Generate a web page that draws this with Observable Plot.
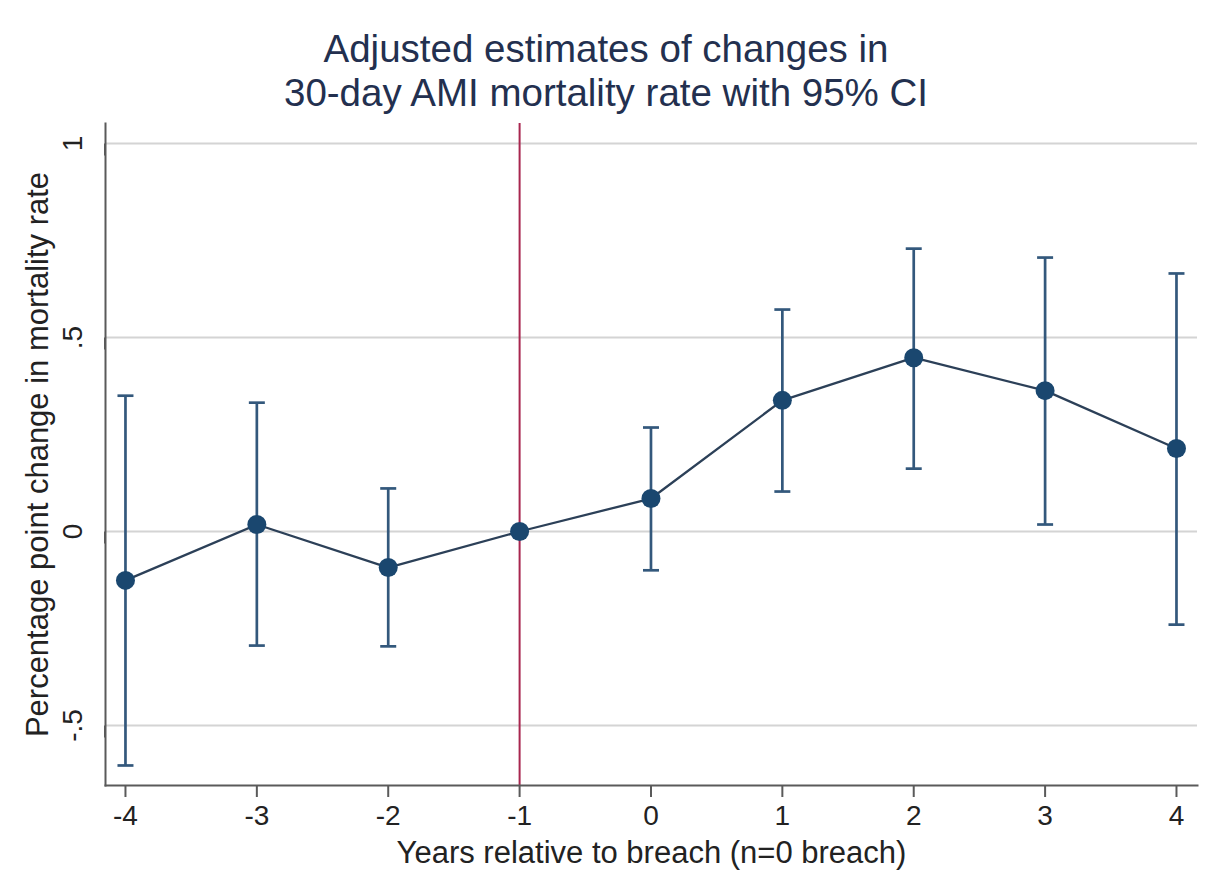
<!DOCTYPE html>
<html><head><meta charset="utf-8">
<script src="https://cdn.jsdelivr.net/npm/d3@7"></script>
<script src="https://cdn.jsdelivr.net/npm/@observablehq/plot@0.6"></script>
<style>
body{margin:0;background:#fff;font-family:"Liberation Sans",Arial,sans-serif;}
#title{height:118px;width:1230px;box-sizing:border-box;padding-top:27px;padding-right:18px;text-align:center;color:#23304f;font-size:38.5px;line-height:44px;}
#chart svg{display:block;}
</style></head><body>
<div id="title">Adjusted estimates of changes in<br>30-day AMI mortality rate with 95% CI</div>
<div id="chart"></div>
<script>
const years = [-4, -3, -2, -1, 0, 1, 2, 3, 4];
const estimate = [-0.126, 0.018, -0.093, 0, 0.085, 0.338, 0.448, 0.363, 0.214];
const ciLow = [-0.603, -0.294, -0.296, null, -0.100, 0.103, 0.162, 0.018, -0.240];
const ciHigh = [0.350, 0.332, 0.111, null, 0.268, 0.572, 0.729, 0.706, 0.665];
const yTicks = [-0.5, 0, 0.5, 1];
const breachYear = -1;
const xLabel = "Years relative to breach (n=0 breach)";
const yLabel = "Percentage point change in mortality rate";

const points = years.map((x, i) => ({x, y: estimate[i], lo: ciLow[i], hi: ciHigh[i]}));
const ci = points.filter(d => d.lo != null);

const capSymbol = {draw(ctx) { ctx.moveTo(-8, 0); ctx.lineTo(8, 0); }};
const fmt = d => d === 0 ? "0" : String(d).replace("0.", ".");
const font = "Liberation Sans, Arial, sans-serif";

const chart = Plot.plot({
  width: 1230, height: 758,
  marginTop: 5, marginBottom: 91, marginLeft: 105, marginRight: 33,
  style: {fontFamily: font, background: "white", color: "#222"},
  x: {domain: [-4.152, 4.16]},
  y: {domain: [-0.6546, 1.0515]},
  marks: [
    Plot.ruleY(yTicks, {stroke: "#d4d4d4", strokeWidth: 2}),
    Plot.ruleX([breachYear], {stroke: "#a8264f", strokeWidth: 2}),
    Plot.frame({anchor: "left", stroke: "#5a5a5a", strokeWidth: 2}),
    Plot.frame({anchor: "bottom", stroke: "#5a5a5a", strokeWidth: 2}),
    Plot.axisX({ticks: years, tickFormat: d => String(d), tickSize: 12, tickPadding: 8, fontSize: 28, stroke: "#5a5a5a", strokeWidth: 2, fill: "#222", label: null}),
    Plot.axisY({ticks: yTicks, tickFormat: fmt, rotate: -90, textAnchor: "middle", tickSize: 12, tickPadding: 20, fontSize: 28, stroke: "#5a5a5a", strokeWidth: 2, fill: "#222", label: null}),
    Plot.text([xLabel], {frameAnchor: "bottom", dy: 68, lineAnchor: "middle", textAnchor: "middle", fontSize: 31, fill: "#222", text: d => d}),
    Plot.text([yLabel], {frameAnchor: "left", dx: -67, rotate: -90, lineAnchor: "middle", textAnchor: "middle", fontSize: 31, fill: "#222", text: d => d}),
    Plot.ruleX(ci, {x: "x", y1: "lo", y2: "hi", stroke: "#33587c", strokeWidth: 2.7}),
    Plot.dot(ci, {x: "x", y: "lo", symbol: capSymbol, stroke: "#33587c", strokeWidth: 2.7, r: 5}),
    Plot.dot(ci, {x: "x", y: "hi", symbol: capSymbol, stroke: "#33587c", strokeWidth: 2.7, r: 5}),
    Plot.line(points, {x: "x", y: "y", stroke: "#2c4058", strokeWidth: 2.3}),
    Plot.dot(points, {x: "x", y: "y", r: 9.5, fill: "#1a476f", stroke: "none"})
  ]
});
document.getElementById("chart").appendChild(chart);
</script>
</body></html>
